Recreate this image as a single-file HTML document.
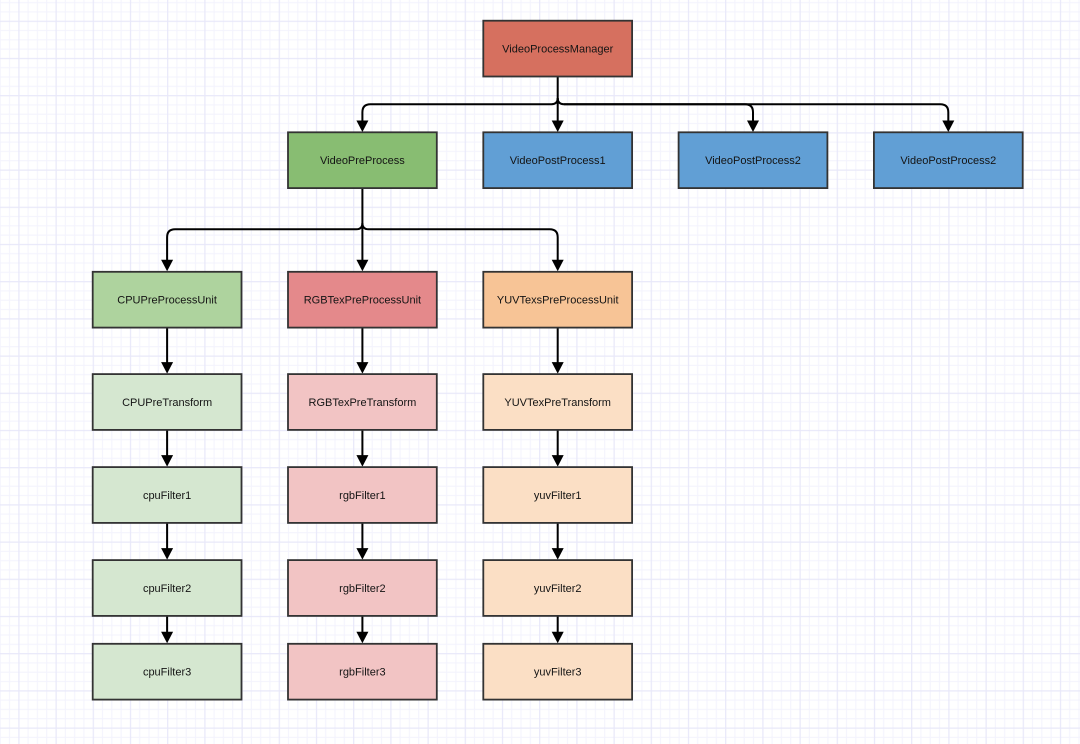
<!DOCTYPE html>
<html><head><meta charset="utf-8"><style>
html,body{margin:0;padding:0;background:#fff;}
svg{display:block;}
text{font-family:"Liberation Sans",Arial,sans-serif;font-size:11px;fill:#141414;text-anchor:middle;}
</style></head><body>
<svg width="1080" height="744" viewBox="0 0 1080 744" xmlns="http://www.w3.org/2000/svg">
<defs>
<pattern id="g" patternUnits="userSpaceOnUse" x="18.3" y="20.7" width="37.2" height="37.2">
<rect x="0" y="0" width="37.2" height="37.2" fill="#fff"/>
<rect x="9.3" y="0" width="1" height="37.2" fill="#f3f3fd"/>
<rect x="18.6" y="0" width="1" height="37.2" fill="#f3f3fd"/>
<rect x="27.9" y="0" width="1" height="37.2" fill="#f3f3fd"/>
<rect x="0" y="9.3" width="37.2" height="1" fill="#f3f3fd"/>
<rect x="0" y="18.6" width="37.2" height="1" fill="#f3f3fd"/>
<rect x="0" y="27.9" width="37.2" height="1" fill="#f3f3fd"/>
<rect x="0" y="0" width="1.2" height="37.2" fill="#e8e8f9"/>
<rect x="0" y="0" width="37.2" height="1.2" fill="#e8e8f9"/>
</pattern>
</defs>
<rect width="1080" height="744" fill="url(#g)"/>

<g fill="none" stroke="#000" stroke-width="2">
<path d="M557.7,76.5 L557.7,121"/>
<path d="M557.7,98 Q557.7,104.2 551.5,104.2 L370.4,104.2 Q362.4,104.2 362.4,112.2 L362.4,121"/>
<path d="M557.7,98 Q557.7,104.2 563.9,104.2 L745,104.2 Q753,104.2 753,112.2 L753,121"/>
<path d="M563.9,104.2 L940.3,104.2 Q948.3,104.2 948.3,112.2 L948.3,121"/>
<path d="M362.4,188.1 L362.4,260"/>
<path d="M362.4,223 Q362.4,229.3 356.2,229.3 L175.1,229.3 Q167.1,229.3 167.1,237.3 L167.1,260"/>
<path d="M362.4,223 Q362.4,229.3 368.6,229.3 L549.7,229.3 Q557.7,229.3 557.7,237.3 L557.7,260"/>
<path d="M167.1,327.6 L167.1,363 M167.1,429.9 L167.1,456 M167.1,522.9 L167.1,549 M167.1,615.9 L167.1,633"/>
<path d="M362.4,327.6 L362.4,363 M362.4,429.9 L362.4,456 M362.4,522.9 L362.4,549 M362.4,615.9 L362.4,633"/>
<path d="M557.7,327.6 L557.7,363 M557.7,429.9 L557.7,456 M557.7,522.9 L557.7,549 M557.7,615.9 L557.7,633"/>
</g>

<g fill="#000">
<polygon points="557.7,132 551.7,120.5 563.7,120.5"/>
<polygon points="362.4,132 356.4,120.5 368.4,120.5"/>
<polygon points="753,132 747,120.5 759,120.5"/>
<polygon points="948.3,132 942.3,120.5 954.3,120.5"/>
<polygon points="167.1,271.3 161.1,259.8 173.1,259.8"/>
<polygon points="362.4,271.3 356.4,259.8 368.4,259.8"/>
<polygon points="557.7,271.3 551.7,259.8 563.7,259.8"/>
<polygon points="167.1,373.6 161.1,362.1 173.1,362.1"/>
<polygon points="362.4,373.6 356.4,362.1 368.4,362.1"/>
<polygon points="557.7,373.6 551.7,362.1 563.7,362.1"/>
<polygon points="167.1,466.6 161.1,455.1 173.1,455.1"/>
<polygon points="362.4,466.6 356.4,455.1 368.4,455.1"/>
<polygon points="557.7,466.6 551.7,455.1 563.7,455.1"/>
<polygon points="167.1,559.6 161.1,548.1 173.1,548.1"/>
<polygon points="362.4,559.6 356.4,548.1 368.4,548.1"/>
<polygon points="557.7,559.6 551.7,548.1 563.7,548.1"/>
<polygon points="167.1,643.3 161.1,631.8 173.1,631.8"/>
<polygon points="362.4,643.3 356.4,631.8 368.4,631.8"/>
<polygon points="557.7,643.3 551.7,631.8 563.7,631.8"/>
</g>

<g stroke="#333" stroke-width="1.8">
<rect x="483.3" y="20.7" width="148.8" height="55.8" fill="#d6705f"/>
<rect x="288" y="132.3" width="148.8" height="55.8" fill="#88bd72"/>
<rect x="483.3" y="132.3" width="148.8" height="55.8" fill="#619fd5"/>
<rect x="678.6" y="132.3" width="148.8" height="55.8" fill="#619fd5"/>
<rect x="873.9" y="132.3" width="148.8" height="55.8" fill="#619fd5"/>

<rect x="92.7" y="271.8" width="148.8" height="55.8" fill="#aed39e"/>
<rect x="288" y="271.8" width="148.8" height="55.8" fill="#e4898b"/>
<rect x="483.3" y="271.8" width="148.8" height="55.8" fill="#f7c496"/>

<rect x="92.7" y="374.1" width="148.8" height="55.8" fill="#d5e7d0"/>
<rect x="288" y="374.1" width="148.8" height="55.8" fill="#f2c4c4"/>
<rect x="483.3" y="374.1" width="148.8" height="55.8" fill="#fbdfc5"/>

<rect x="92.7" y="467.1" width="148.8" height="55.8" fill="#d5e7d0"/>
<rect x="288" y="467.1" width="148.8" height="55.8" fill="#f2c4c4"/>
<rect x="483.3" y="467.1" width="148.8" height="55.8" fill="#fbdfc5"/>

<rect x="92.7" y="560.1" width="148.8" height="55.8" fill="#d5e7d0"/>
<rect x="288" y="560.1" width="148.8" height="55.8" fill="#f2c4c4"/>
<rect x="483.3" y="560.1" width="148.8" height="55.8" fill="#fbdfc5"/>

<rect x="92.7" y="643.8" width="148.8" height="55.8" fill="#d5e7d0"/>
<rect x="288" y="643.8" width="148.8" height="55.8" fill="#f2c4c4"/>
<rect x="483.3" y="643.8" width="148.8" height="55.8" fill="#fbdfc5"/>
</g>

<text x="557.7" y="52.4">VideoProcessManager</text>
<text x="362.4" y="164">VideoPreProcess</text>
<text x="557.7" y="164">VideoPostProcess1</text>
<text x="753" y="164">VideoPostProcess2</text>
<text x="948.3" y="164">VideoPostProcess2</text>

<text x="167.1" y="303.5">CPUPreProcessUnit</text>
<text x="362.4" y="303.5">RGBTexPreProcessUnit</text>
<text x="557.7" y="303.5">YUVTexsPreProcessUnit</text>

<text x="167.1" y="405.8">CPUPreTransform</text>
<text x="362.4" y="405.8">RGBTexPreTransform</text>
<text x="557.7" y="405.8">YUVTexPreTransform</text>

<text x="167.1" y="498.8">cpuFilter1</text>
<text x="362.4" y="498.8">rgbFilter1</text>
<text x="557.7" y="498.8">yuvFilter1</text>

<text x="167.1" y="591.8">cpuFilter2</text>
<text x="362.4" y="591.8">rgbFilter2</text>
<text x="557.7" y="591.8">yuvFilter2</text>

<text x="167.1" y="675.5">cpuFilter3</text>
<text x="362.4" y="675.5">rgbFilter3</text>
<text x="557.7" y="675.5">yuvFilter3</text>
</svg>
</body></html>
